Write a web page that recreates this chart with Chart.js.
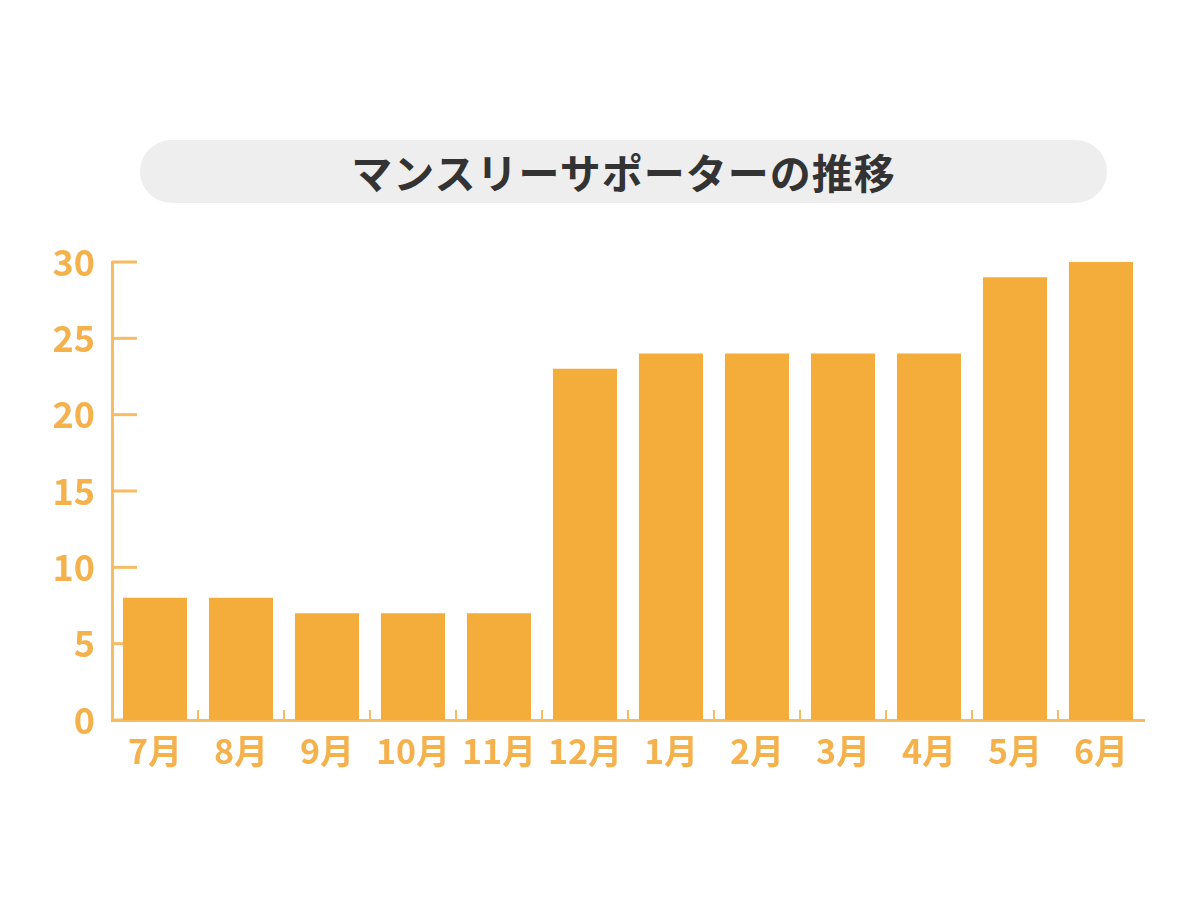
<!doctype html>
<html><head><meta charset="utf-8">
<title>マンスリーサポーターの推移</title>
<script src="https://cdn.jsdelivr.net/npm/chart.js"></script>
<style>
  html, body { margin: 0; padding: 0; background: #fff; }
  .wrap { position: relative; width: 1200px; height: 902px; }
  .title {
    position: absolute; left: 140px; top: 140px; width: 967px; height: 63px;
    background: #eeeeee; border-radius: 32px;
    font-family: "Noto Sans CJK JP", sans-serif; font-weight: 700; font-size: 41px;
    color: #333; text-align: center; line-height: 63px; letter-spacing: 1px;
  }
  canvas { position: absolute; left: 0; top: 0; }
</style>
</head><body>
<div class="wrap">
  <div class="title">マンスリーサポーターの推移</div>
  <canvas id="c" width="1200" height="902"></canvas>
</div>
<script>
const months = ['7月', '8月', '9月', '10月', '11月', '12月', '1月', '2月', '3月', '4月', '5月', '6月'];
const supporters = [8, 8, 7, 7, 7, 23, 24, 24, 24, 24, 29, 30];
const yTicks = [0, 5, 10, 15, 20, 25, 30];

const orange = '#f4ac3b';
const labelOrange = '#f4b14c';
const lineOrange = '#f6bb63';
const font = "'Noto Sans CJK JP', sans-serif";

// ticks drawn inward from the axes, under the bars
const innerTicks = {
  id: 'innerTicks',
  beforeDatasetsDraw(chart) {
    const { ctx, chartArea, scales } = chart;
    ctx.save();
    ctx.strokeStyle = lineOrange;
    ctx.lineWidth = 3;
    yTicks.forEach(v => {
      const y = scales.y.getPixelForValue(v);
      ctx.beginPath();
      ctx.moveTo(chartArea.left, y);
      ctx.lineTo(chartArea.left + 25, y);
      ctx.stroke();
    });
    ctx.lineWidth = 2;
    for (let i = 1; i < months.length; i++) {
      const x = (scales.x.getPixelForValue(i - 1) + scales.x.getPixelForValue(i)) / 2;
      ctx.beginPath();
      ctx.moveTo(x, chartArea.bottom);
      ctx.lineTo(x, chartArea.bottom - 10);
      ctx.stroke();
    }
    ctx.restore();
  }
};

new Chart(document.getElementById('c'), {
  type: 'bar',
  data: {
    labels: months,
    datasets: [{
      data: supporters,
      backgroundColor: orange,
      borderWidth: 0,
      categoryPercentage: 1,
      barPercentage: 0.745
    }]
  },
  options: {
    responsive: false,
    animation: false,
    layout: { padding: { left: 0, top: 262, right: 56, bottom: 122 } },
    plugins: { legend: { display: false }, tooltip: { enabled: false } },
    scales: {
      x: {
        grid: { display: false, drawTicks: false },
        border: { display: true, color: lineOrange, width: 3 },
        ticks: {
          color: labelOrange, autoSkip: false, maxRotation: 0, padding: 11,
          font: { family: font, size: 34, weight: '700' }
        },
        afterFit(scale) { scale.height = 60; }
      },
      y: {
        min: 0, max: 30,
        afterBuildTicks(scale) { scale.ticks = yTicks.map(v => ({ value: v })); },
        grid: { display: false, drawTicks: false },
        border: { display: true, color: lineOrange, width: 3 },
        ticks: {
          color: labelOrange, padding: 17,
          font: { family: font, size: 36, weight: '700' }
        },
        afterFit(scale) { scale.width = 112; }
      }
    }
  },
  plugins: [innerTicks]
});
</script>
</body></html>
